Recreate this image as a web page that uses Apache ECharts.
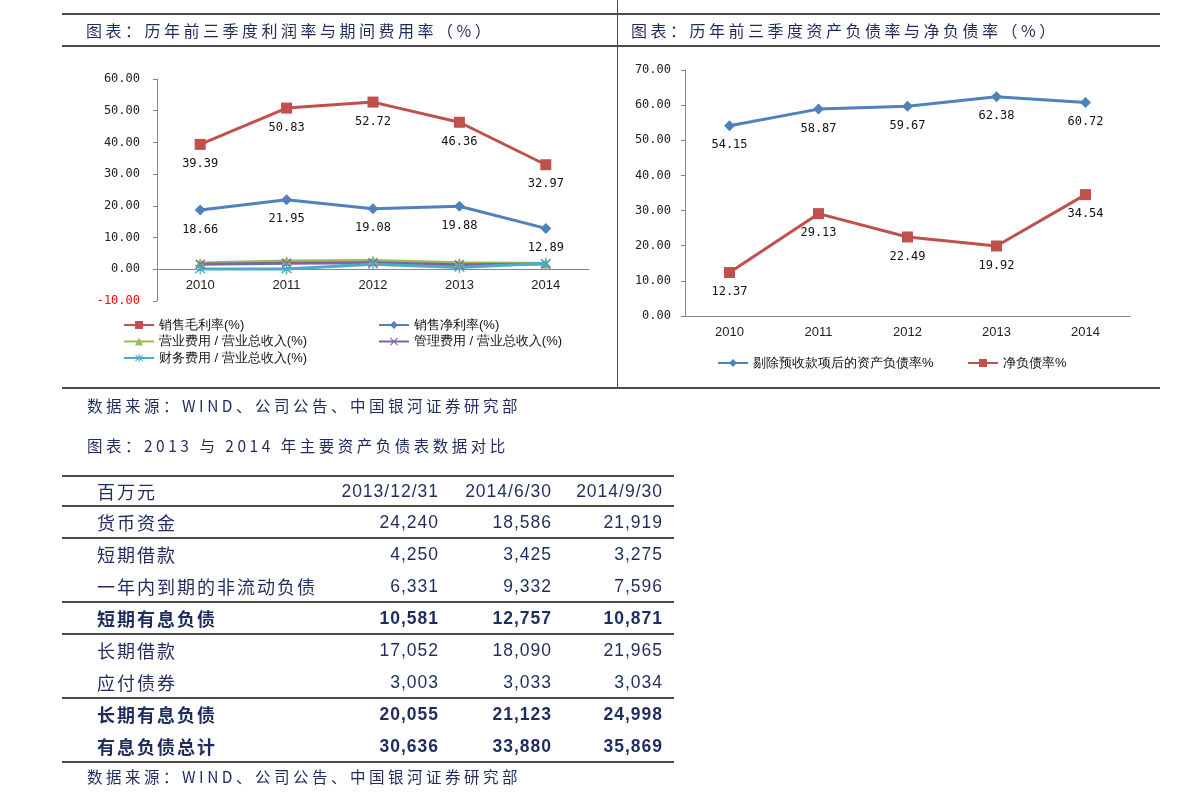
<!DOCTYPE html>
<html lang="zh">
<head>
<meta charset="UTF-8">
<script src="https://cdn.jsdelivr.net/npm/echarts@6/dist/echarts.min.js"></script>
<style>
    html, body {
        margin: 0;
        padding: 0;
        background: #fff;
    }
    #page {
        position: relative;
        width: 1191px;
        height: 805px;
        overflow: hidden;
        font-family: "Noto Sans CJK SC", sans-serif;
        color: #1f2c5e;
    }
    #main {
        position: absolute;
        left: 0;
        top: 0;
        width: 1191px;
        height: 805px;
    }
    .hl { position: absolute; height: 0; border-top: 2px solid #4a4a4a; }
    .vl { position: absolute; width: 0; border-left: 1px solid #4a4a4a; }
    .txt {
        position: absolute;
        white-space: nowrap;
        font-size: 15.5px;
        letter-spacing: 3.5px;
        line-height: 20px;
    }
    .ttl { font-size: 16px; letter-spacing: 3.5px; }
    #tbl { position: absolute; left: 62px; top: 0; width: 612px; height: 805px; }
    .rule { position: absolute; left: 0; width: 612px; border-top: 2px solid #4a4a4a; }
    .row { position: absolute; left: 0; width: 612px; white-space: nowrap; }
    .row span { position: absolute; top: 0; }
    .c0 { left: 35px; font-size: 18px; letter-spacing: 2px; }
    .c1, .c2, .c3 {
        font-family: "Liberation Sans", Arial, sans-serif;
        font-size: 17.5px;
        letter-spacing: 1px;
    }
    .c1 { right: 235px; }
    .c2 { right: 122px; }
    .c3 { right: 11px; }
    .bold span { font-weight: bold; }
</style>
<title>利润率与负债率</title>
</head>
<body>
<div id="page">
    <div id="main"></div>
    <div class="hl" style="left:62px; top:13px; width:1098px;"></div>
    <div class="hl" style="left:62px; top:45px; width:1098px;"></div>
    <div class="hl" style="left:62px; top:387px; width:1098px;"></div>
    <div class="vl" style="left:617px; top:0; height:388px;"></div>
    <div class="txt ttl" style="left:86px; top:20px;">图表：历年前三季度利润率与期间费用率（%）</div>
    <div class="txt ttl" style="left:631px; top:20px;">图表：历年前三季度资产负债率与净负债率（%）</div>
    <div class="txt" style="left:87px; top:395px;">数据来源：WIND、公司公告、中国银河证券研究部</div>
    <div class="txt" style="left:87px; top:435px;">图表：2013 与 2014 年主要资产负债表数据对比</div>
    <div id="tbl"></div>
    <div class="txt" style="left:87px; top:766px;">数据来源：WIND、公司公告、中国银河证券研究部</div>
</div>
<script>
    // chart data
    var years = ['2010', '2011', '2012', '2013', '2014'];
    var grossMargin = [39.39, 50.83, 52.72, 46.36, 32.97];
    var netMargin = [18.66, 21.95, 19.08, 19.88, 12.89];
    var sellingExp = [2.0, 2.6, 2.8, 2.1, 1.8];
    var adminExp = [1.6, 1.9, 2.1, 1.4, 1.7];
    var financeExp = [0.1, 0.1, 1.6, 0.6, 1.9];
    var debtRatio = [54.15, 58.87, 59.67, 62.38, 60.72];
    var netDebtRatio = [12.37, 29.13, 22.49, 19.92, 34.54];

    // table data
    var tableHead = ['百万元', '2013/12/31', '2014/6/30', '2014/9/30'];
    var rowNames = ['货币资金', '短期借款', '一年内到期的非流动负债', '短期有息负债',
        '长期借款', '应付债券', '长期有息负债', '有息负债总计'];
    var col2013 = [24240, 4250, 6331, 10581, 17052, 3003, 20055, 30636];
    var col2014H1 = [18586, 3425, 9332, 12757, 18090, 3033, 21123, 33880];
    var col2014Q3 = [21919, 3275, 7596, 10871, 21965, 3034, 24998, 35869];
    var boldRows = ['短期有息负债', '长期有息负债', '有息负债总计'];
    var ruleAfter = ['货币资金', '一年内到期的非流动负债', '短期有息负债', '应付债券', '有息负债总计'];

    // table
    var tbl = document.getElementById('tbl');
    function addRule(y) {
        var d = document.createElement('div');
        d.className = 'rule';
        d.style.top = (y - 1) + 'px';
        tbl.appendChild(d);
    }
    function addRow(y, h, cells, bold) {
        var r = document.createElement('div');
        r.className = 'row' + (bold ? ' bold' : '');
        r.style.top = y + 'px';
        r.style.height = h + 'px';
        r.style.lineHeight = h + 'px';
        cells.forEach(function (c, i) {
            var s = document.createElement('span');
            s.className = 'c' + i;
            s.textContent = c;
            r.appendChild(s);
        });
        tbl.appendChild(r);
    }
    var headTop = 476, headH = 30, rowH = 32;
    addRule(headTop);
    addRow(headTop, headH, tableHead, false);
    addRule(headTop + headH);
    rowNames.forEach(function (name, i) {
        var y = headTop + headH + i * rowH;
        var fmt = function (v) { return v.toLocaleString('en-US'); };
        addRow(y, rowH, [name, fmt(col2013[i]), fmt(col2014H1[i]), fmt(col2014Q3[i])],
            boldRows.indexOf(name) >= 0);
        if (ruleAfter.indexOf(name) >= 0) addRule(y + rowH);
    });

    // charts
    var xMark = 'path://M1,0L5,4L9,0L10,1L6,5L10,9L9,10L5,6L1,10L0,9L4,5L0,1Z';
    var starMark = 'path://M1,0L5,4L9,0L10,1L6,5L10,9L9,10L5,6L1,10L0,9L4,5L0,1Z M4.4,-1L5.6,-1L5.6,11L4.4,11Z';
    var monoFont = 'DejaVu Sans Mono';

    function lineSeries(name, data, color, symbol, size, idx, showLabel) {
        return {
            name: name,
            type: 'line',
            xAxisIndex: idx,
            yAxisIndex: idx,
            data: data,
            symbol: symbol,
            symbolSize: size,
            color: color,
            lineStyle: { width: 3, color: color },
            itemStyle: { color: color },
            label: {
                show: showLabel,
                position: 'bottom',
                distance: 8,
                fontFamily: monoFont,
                fontSize: 12,
                color: '#111',
                formatter: function (p) { return p.value.toFixed(2); }
            }
        };
    }

    // x axis sits on the zero line: offset it up from the grid bottom
    function catAxis(idx, offset) {
        return {
            type: 'category',
            gridIndex: idx,
            data: years,
            boundaryGap: true,
            offset: offset,
            axisLine: { onZero: false, lineStyle: { color: '#868686' } },
            axisTick: { length: 4, lineStyle: { color: '#868686' } },
            axisLabel: { fontFamily: 'Liberation Sans', fontSize: 13, color: '#222', margin: 10 }
        };
    }

    function valAxis(idx, min, max, margin) {
        return {
            type: 'value',
            gridIndex: idx,
            min: min,
            max: max,
            interval: 10,
            axisLine: { show: true, lineStyle: { color: '#868686' } },
            axisTick: { show: true, length: 4, lineStyle: { color: '#868686' } },
            splitLine: { show: false },
            axisLabel: {
                fontFamily: monoFont,
                fontSize: 12,
                margin: margin,
                color: function (v) { return Number(v) < 0 ? '#ff0000' : '#222'; },
                formatter: function (v) { return v.toFixed(2); }
            }
        };
    }

    var legendBase = {
        orient: 'vertical',
        padding: 0,
        itemWidth: 30,
        itemHeight: 10,
        itemGap: 3.5,
        textStyle: { fontSize: 13, lineHeight: 13, color: '#111' }
    };

    var leftH = 222;
    var myChart = echarts.init(document.getElementById('main'));
    var option = {
        animation: false,
        grid: [
            { left: 157, top: 79, width: 432, height: leftH },
            { left: 685, top: 70, width: 445, height: 246 }
        ],
        xAxis: [catAxis(0, -leftH * 10 / 70), catAxis(1, 0)],
        yAxis: [valAxis(0, -10, 60, 17), valAxis(1, 0, 70, 14)],
        legend: [
            Object.assign({}, legendBase, {
                left: 123, top: 318.5,
                data: ['销售毛利率(%)', '营业费用 / 营业总收入(%)', '财务费用 / 营业总收入(%)']
            }),
            Object.assign({}, legendBase, {
                left: 378, top: 318.5,
                data: ['销售净利率(%)', '管理费用 / 营业总收入(%)']
            }),
            Object.assign({}, legendBase, {
                left: 717, top: 356.5,
                data: ['剔除预收款项后的资产负债率%']
            }),
            Object.assign({}, legendBase, {
                left: 967, top: 356.5,
                data: ['净负债率%']
            })
        ],
        series: [
            lineSeries('营业费用 / 营业总收入(%)', sellingExp, '#9bbb59', 'triangle', 10, 0, false),
            lineSeries('管理费用 / 营业总收入(%)', adminExp, '#8064a2', xMark, 10, 0, false),
            lineSeries('财务费用 / 营业总收入(%)', financeExp, '#4bacc6', starMark, 11, 0, false),
            lineSeries('销售净利率(%)', netMargin, '#4f81bd', 'diamond', 11, 0, true),
            lineSeries('销售毛利率(%)', grossMargin, '#c0504d', 'rect', 11, 0, true),
            lineSeries('剔除预收款项后的资产负债率%', debtRatio, '#4f81bd', 'diamond', 11, 1, true),
            lineSeries('净负债率%', netDebtRatio, '#c0504d', 'rect', 11, 1, true)
        ]
    };
    myChart.setOption(option);
</script>
</body>
</html>
